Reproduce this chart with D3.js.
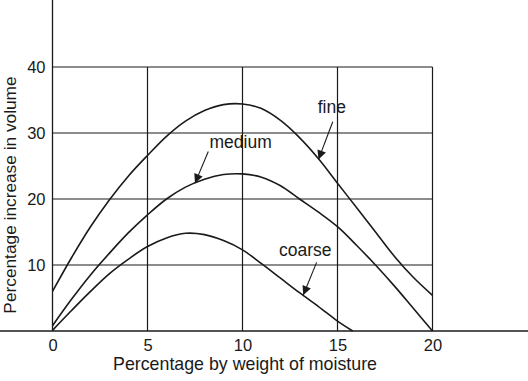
<!DOCTYPE html>
<html>
<head>
<meta charset="utf-8">
<script src="https://cdn.jsdelivr.net/npm/d3@7"></script>
<style>
  body { margin: 0; background: #fff; }
  svg { display: block; }
  text { font-family: "Liberation Sans", Arial, Helvetica, sans-serif; fill: #1a1a1a; }
</style>
</head>
<body>
<div id="chart"></div>
<script>
// values
var moisture = [0, 1, 2, 3, 4, 5, 6, 7, 8, 9, 10, 11, 12, 13, 14, 15, 16, 17, 18, 19, 20];
var fine = [6, 11.1, 15.8, 19.9, 23.5, 26.6, 29.5, 31.8, 33.4, 34.3, 34.4, 33.7, 31.9, 29.3, 26.1, 22.4, 18.7, 15.0, 11.3, 8.1, 5.4];
var medium = [0.8, 4.8, 8.5, 11.8, 14.9, 17.6, 20, 21.8, 23, 23.7, 23.8, 23.3, 22.0, 20, 18, 15.8, 13, 10, 6.8, 3.4, 0];
var coarseMoisture = [0, 1, 2, 3, 4, 5, 6, 7, 8, 9, 10, 11, 12, 13, 14, 15, 15.8];
var coarse = [0.1, 3.1, 6.0, 8.7, 10.9, 12.8, 14.1, 14.8, 14.6, 13.7, 12.3, 10.2, 8.0, 5.8, 3.7, 1.5, 0];

var xTicks = [0, 5, 10, 15, 20];
var yTicks = [10, 20, 30, 40];

// labels with arrows: text position, arrow start, arrow tip (data units)
var labelNames = ["fine", "medium", "coarse"];
var labelPos = [[14.7, 33.0], [9.9, 27.7], [13.3, 11.4]];
var arrowFrom = [[14.75, 31.7], [8.2, 27.2], [13.9, 10.4]];
var arrowTo = [[14.0, 26.0], [7.5, 22.4], [13.2, 5.45]];

var width = 528, height = 381;

var svg = d3.select("#chart").append("svg")
  .attr("width", width)
  .attr("height", height)

var x = d3.scaleLinear().domain([0, 25]).range([52.5, 527.5]);
var y = d3.scaleLinear().domain([0, 50]).range([331, 1]);

var ink = "#1a1a1a";

// grid
var grid = svg.append("g").attr("stroke", ink).attr("stroke-width", 1.2);
grid.selectAll(".vgrid")
  .data(xTicks.slice(1))
  .enter().append("line")
  .attr("x1", d => x(d)).attr("x2", d => x(d))
  .attr("y1", y(0)).attr("y2", y(40));
grid.selectAll(".hgrid")
  .data(yTicks)
  .enter().append("line")
  .attr("x1", x(0)).attr("x2", x(20))
  .attr("y1", d => y(d)).attr("y2", d => y(d));

// axes
var xAxis = svg.append("g")
  .attr("transform", "translate(0," + y(0) + ")")
  .call(d3.axisBottom(x).tickValues(xTicks).tickSize(0).tickPadding(8));
var yAxis = svg.append("g")
  .attr("transform", "translate(" + x(0) + ",0)")
  .call(d3.axisLeft(y).tickValues(yTicks).tickSize(0).tickPadding(7));

[xAxis, yAxis].forEach(a => {
  a.select(".domain").attr("stroke", ink).attr("stroke-width", 1.3);
  a.selectAll("text").attr("font-size", 16.5).attr("fill", ink)
    .style("font-family", '"Liberation Sans", Arial, sans-serif');
});
yAxis.select(".domain").attr("d", "M0," + y(0) + "V0");
xAxis.select(".domain").attr("d", "M0,0H" + width);

svg.append("text")
  .attr("x", 245).attr("y", 370)
  .attr("text-anchor", "middle")
  .attr("font-size", 17.8)
  .text("Percentage by weight of moisture");

svg.append("text")
  .attr("transform", "translate(15.5,195) rotate(-90)")
  .attr("text-anchor", "middle")
  .attr("font-size", 17.3)
  .text("Percentage increase in volume");

// curves
var line = d3.line()
  .x(d => x(d[0]))
  .y(d => y(d[1]))
  .curve(d3.curveCatmullRom.alpha(0.5));

var series = [
  d3.zip(moisture, fine),
  d3.zip(moisture, medium),
  d3.zip(coarseMoisture, coarse)
];

svg.append("g").selectAll("path")
  .data(series)
  .enter().append("path")
  .attr("d", line)
  .attr("fill", "none")
  .attr("stroke", ink)
  .attr("stroke-width", 1.6);

// arrow labels
svg.append("defs").append("marker")
  .attr("id", "head")
  .attr("viewBox", "0 0 10 10")
  .attr("refX", 10).attr("refY", 5)
  .attr("markerWidth", 11).attr("markerHeight", 9)
  .attr("markerUnits", "userSpaceOnUse")
  .attr("orient", "auto")
  .append("path")
  .attr("d", "M0,0L10,5L0,10Z")
  .attr("fill", ink);

var notes = svg.append("g");
labelNames.forEach((name, i) => {
  notes.append("text")
    .attr("x", x(labelPos[i][0]))
    .attr("y", y(labelPos[i][1]))
    .attr("text-anchor", "middle")
    .attr("font-size", 17.5)
    .text(name);
  notes.append("line")
    .attr("x1", x(arrowFrom[i][0])).attr("y1", y(arrowFrom[i][1]))
    .attr("x2", x(arrowTo[i][0])).attr("y2", y(arrowTo[i][1]))
    .attr("stroke", ink)
    .attr("stroke-width", 1.1)
    .attr("marker-end", "url(#head)");
});
</script>
</body>
</html>
